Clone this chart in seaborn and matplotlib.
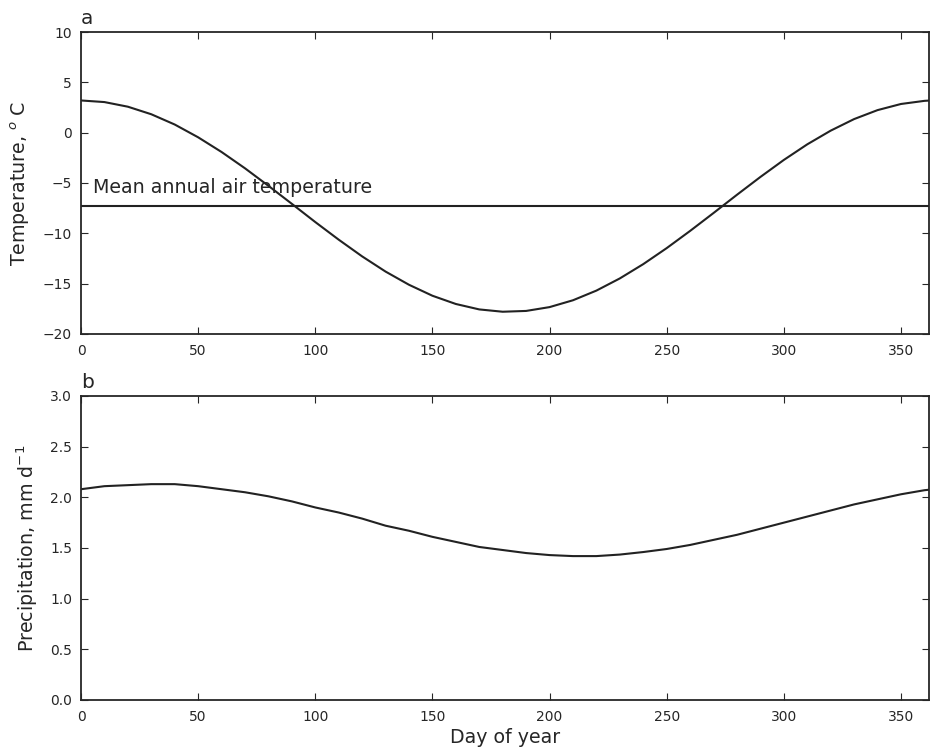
import numpy as np
import pandas as pd
import matplotlib
matplotlib.use('Agg')
import matplotlib.pyplot as plt
import seaborn as sns

# day of year sampled every 10 days
days = [0, 10, 20, 30, 40, 50, 60, 70, 80, 90, 100, 110, 120, 130, 140, 150, 160, 170, 180,
        190, 200, 210, 220, 230, 240, 250, 260, 270, 280, 290, 300, 310, 320, 330, 340, 350, 360, 362]

# air temperature, deg C
temperature = [3.20, 3.04, 2.58, 1.83, 0.81, -0.46, -1.92, -3.54, -5.28, -7.07, -8.88, -10.63,
               -12.29, -13.80, -15.11, -16.20, -17.02, -17.56, -17.79, -17.71, -17.33, -16.65,
               -15.69, -14.48, -13.06, -11.47, -9.76, -7.98, -6.17, -4.40, -2.71, -1.16, 0.20,
               1.35, 2.24, 2.85, 3.16, 3.19]

# precipitation, mm/day
precip = [2.08, 2.11, 2.12, 2.13, 2.13, 2.11, 2.08, 2.05, 2.01, 1.96, 1.90, 1.85, 1.79, 1.72,
          1.67, 1.61, 1.56, 1.51, 1.48, 1.45, 1.43, 1.42, 1.42, 1.435, 1.46, 1.49, 1.53, 1.58,
          1.63, 1.69, 1.75, 1.81, 1.87, 1.93, 1.98, 2.03, 2.07, 2.075]

mean_temp = -7.3

df = pd.DataFrame({'day': days, 'temp': temperature, 'precip': precip})

sns.set_style('ticks')
plt.rcParams['font.family'] = ['DejaVu Sans']
plt.rcParams['xtick.direction'] = 'in'
plt.rcParams['ytick.direction'] = 'in'
plt.rcParams['xtick.top'] = True
plt.rcParams['ytick.right'] = True
plt.rcParams['xtick.major.size'] = 5
plt.rcParams['ytick.major.size'] = 5
plt.rcParams['xtick.major.pad'] = 7
plt.rcParams['ytick.major.pad'] = 6.5
plt.rcParams['axes.linewidth'] = 1.3
plt.rcParams['text.color'] = '#262626'
plt.rcParams['axes.labelcolor'] = '#262626'
plt.rcParams['xtick.color'] = '#262626'
plt.rcParams['ytick.color'] = '#262626'

fig = plt.figure(figsize=(9.3, 7.48), dpi=100)
ax1 = fig.add_axes([0.0871, 0.5535, 0.9119, 0.4037])
ax2 = fig.add_axes([0.0871, 0.0642, 0.9119, 0.4064])

# a: temperature
sns.lineplot(data=df, x='day', y='temp', ax=ax1, color='#222222', linewidth=1.5)
ax1.axhline(mean_temp, color='#222222', linewidth=1.5)
ax1.text(5, mean_temp + 1.3, 'Mean annual air temperature', fontsize=13.7)
ax1.set_xlim(0, 362)
ax1.set_ylim(-20, 10)
ax1.set_yticks([-20, -15, -10, -5, 0, 5, 10])
ax1.set_xticks([0, 50, 100, 150, 200, 250, 300, 350])
ax1.set_xlabel('')
ax1.set_ylabel('Temperature, $^o$ C', fontsize=13.7, labelpad=7.5)
ax1.set_title('a', loc='left', fontsize=14.5, pad=6)
ax1.tick_params(labelsize=10)

# b: precipitation
sns.lineplot(data=df, x='day', y='precip', ax=ax2, color='#222222', linewidth=1.5)
ax2.set_xlim(0, 362)
ax2.set_ylim(0, 3)
ax2.set_yticks([0.0, 0.5, 1.0, 1.5, 2.0, 2.5, 3.0])
ax2.set_yticklabels(['0.0', '0.5', '1.0', '1.5', '2.0', '2.5', '3.0'])
ax2.set_xticks([0, 50, 100, 150, 200, 250, 300, 350])
ax2.set_xlabel('Day of year', fontsize=13.7, labelpad=3)
ax2.set_ylabel('Precipitation, mm d$^{-1}$', fontsize=13.7, labelpad=7.5)
ax2.set_title('b', loc='left', fontsize=14.5, pad=6)
ax2.tick_params(labelsize=10)

fig.savefig('out.png', dpi=100)
